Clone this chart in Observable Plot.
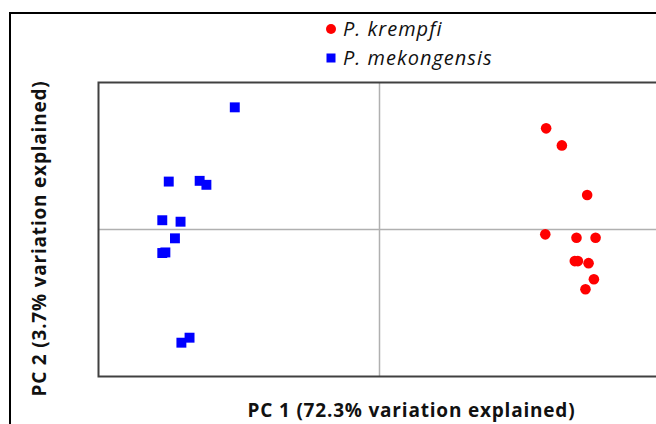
<!DOCTYPE html>
<html>
<head>
<meta charset="utf-8">
<script src="https://cdn.jsdelivr.net/npm/d3@7"></script>
<script src="https://cdn.jsdelivr.net/npm/@observablehq/plot@0.6"></script>
<style>
  html, body { margin: 0; padding: 0; background: #fff; overflow: hidden; }
  #wrap { position: relative; width: 656px; height: 424px; overflow: hidden; }
  #border { position: absolute; left: 9px; top: 12px; width: 700px; height: 500px;
            border-left: 2.5px solid #000; border-top: 2.5px solid #000; box-sizing: border-box; }
  #legend { position: absolute; left: 325px; top: 15px; font-family: "Open Sans", sans-serif;
            font-style: italic; font-size: 20px; letter-spacing: 1px; color: #111; line-height: 28px; }
  #legend .row { display: flex; align-items: center; white-space: nowrap; height: 28.5px; }
  #legend svg { margin-right: 6px; }
  #chart { position: absolute; left: 0; top: 0; width: 662px; }
  #chart svg { max-width: none !important; }
  .title text { letter-spacing: 0.8px; }
</style>
</head>
<body>
<div id="wrap">
  <div id="border"></div>
  <div id="chart"></div>
  <div id="legend"></div>
</div>
<script>
// Species (series) names and colours
const species = ["P. krempfi", "P. mekongensis"];
const speciesColors = ["#ff0000", "#0000ff"];
const speciesSymbols = ["circle", "square"];

// PC scores (PC1, PC2), scaled to axis range [-1, 1]
const krempfiPC1 = [0.593, 0.649, 0.739, 0.590, 0.701, 0.769, 0.695, 0.706, 0.744, 0.763, 0.733];
const krempfiPC2 = [0.688, 0.572, 0.235, -0.033, -0.056, -0.056, -0.215, -0.215, -0.229, -0.338, -0.406];
const mekongPC1 = [-0.515, -0.750, -0.640, -0.616, -0.773, -0.708, -0.728, -0.773, -0.762, -0.705, -0.676];
const mekongPC2 = [0.831, 0.326, 0.331, 0.304, 0.063, 0.053, -0.060, -0.160, -0.156, -0.770, -0.736];

// Axis titles
const xTitle = "PC 1 (72.3% variation explained)";
const yTitle = "PC 2 (3.7% variation explained)";

const krempfi = krempfiPC1.map((x, i) => ({pc1: x, pc2: krempfiPC2[i], sp: species[0]}));
const mekong = mekongPC1.map((x, i) => ({pc1: x, pc2: mekongPC2[i], sp: species[1]}));

const font = "'Open Sans', sans-serif";

const chart = Plot.plot({
  width: 662,
  height: 424,
  marginLeft: 98,
  marginRight: 2,
  marginTop: 82,
  marginBottom: 48,
  style: {fontFamily: font, background: "transparent", overflow: "visible", maxWidth: "none"},
  x: {domain: [-1, 1], axis: null},
  y: {domain: [-1, 1], axis: null},
  marks: [
    Plot.ruleX([0], {stroke: "#b0b0b0", strokeWidth: 1.5}),
    Plot.ruleY([0], {stroke: "#b0b0b0", strokeWidth: 1.5}),
    Plot.frame({stroke: "#404040", strokeWidth: 2}),
    Plot.dot(mekong, {x: "pc1", y: "pc2", symbol: "square", r: 5.6, fill: speciesColors[1], stroke: "none"}),
    Plot.dot(krempfi, {x: "pc1", y: "pc2", symbol: "circle", r: 5.3, fill: speciesColors[0], stroke: "none"}),
    Plot.text([xTitle], {frameAnchor: "bottom", textAnchor: "middle", dx: 32, dy: 40, fontSize: 19, fontWeight: "bold", fill: "#111", fontFamily: font, className: "title"}),
    Plot.text([yTitle], {frameAnchor: "left", textAnchor: "middle", rotate: -90, dx: -59, dy: 9, fontSize: 19, fontWeight: "bold", fill: "#111", fontFamily: font, className: "title"})
  ]
});
document.getElementById("chart").appendChild(chart);

// Legend
const legend = document.getElementById("legend");
species.forEach((name, i) => {
  const row = document.createElement("div");
  row.className = "row";
  const sym = speciesSymbols[i] === "circle"
    ? `<svg width="12" height="12"><circle cx="6" cy="6" r="5" fill="${speciesColors[i]}"/></svg>`
    : `<svg width="12" height="12"><rect x="1.5" y="1.5" width="9" height="9" fill="${speciesColors[i]}"/></svg>`;
  row.innerHTML = sym + `<span>${name}</span>`;
  legend.appendChild(row);
});
</script>
</body>
</html>
